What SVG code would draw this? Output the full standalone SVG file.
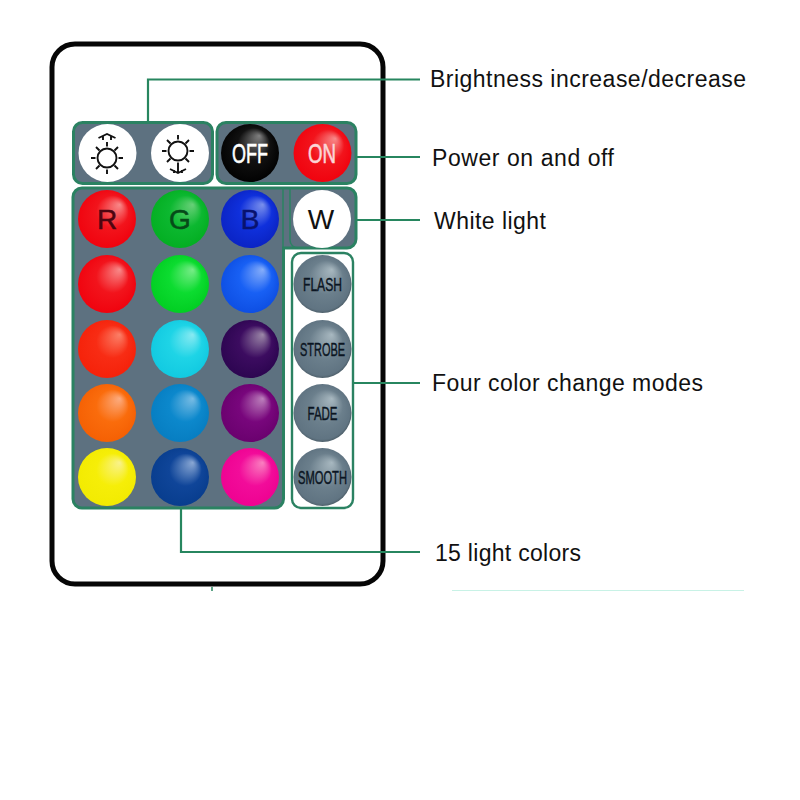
<svg xmlns="http://www.w3.org/2000/svg" width="800" height="800" viewBox="0 0 800 800">
<style>
.lbl{font-family:"Liberation Sans",Arial,sans-serif;font-size:23px;fill:#111}
.conn{fill:none;stroke:#27865f;stroke-width:2.2}
.panel{fill:#5d7180;stroke:#2b8262;stroke-width:3}
.big{font-family:"Liberation Sans",Arial,sans-serif;font-size:28px;text-anchor:middle;stroke-width:.5}
.cond{font-family:"Liberation Sans",Arial,sans-serif;text-anchor:middle}
.mode{font-size:19px;fill:#0b1522;stroke:#0b1522;stroke-width:.45}
.icon{fill:none;stroke:#111;stroke-width:1.9}
</style>
<defs>
<radialGradient id="gRed" cx=".47" cy=".5" r=".56" fx=".72" fy=".25"><stop offset="0" stop-color="#f88a8a"/><stop offset=".5" stop-color="#f2141c"/><stop offset="1" stop-color="#f0000c"/></radialGradient>
<radialGradient id="gRed2" cx=".47" cy=".5" r=".56" fx=".72" fy=".25"><stop offset="0" stop-color="#fb8068"/><stop offset=".5" stop-color="#f82c14"/><stop offset="1" stop-color="#f52008"/></radialGradient>
<radialGradient id="gGreen" cx=".47" cy=".5" r=".56" fx=".72" fy=".25"><stop offset="0" stop-color="#68d078"/><stop offset=".5" stop-color="#0cb830"/><stop offset="1" stop-color="#02ad20"/></radialGradient>
<radialGradient id="gGreen2" cx=".47" cy=".5" r=".56" fx=".72" fy=".25"><stop offset="0" stop-color="#78ec88"/><stop offset=".5" stop-color="#0cdc30"/><stop offset="1" stop-color="#00cc20"/></radialGradient>
<radialGradient id="gBlue" cx=".47" cy=".5" r=".56" fx=".72" fy=".25"><stop offset="0" stop-color="#7a90ec"/><stop offset=".5" stop-color="#0f30dc"/><stop offset="1" stop-color="#0a22c0"/></radialGradient>
<radialGradient id="gBlue2" cx=".47" cy=".5" r=".56" fx=".72" fy=".25"><stop offset="0" stop-color="#86aefa"/><stop offset=".5" stop-color="#1860f4"/><stop offset="1" stop-color="#0c4ce0"/></radialGradient>
<radialGradient id="gCyan" cx=".47" cy=".5" r=".56" fx=".72" fy=".25"><stop offset="0" stop-color="#88eaf2"/><stop offset=".5" stop-color="#1ed4e6"/><stop offset="1" stop-color="#10c8e0"/></radialGradient>
<radialGradient id="gDark" cx=".47" cy=".5" r=".56" fx=".72" fy=".25"><stop offset="0" stop-color="#9c88a8"/><stop offset=".5" stop-color="#3c0c60"/><stop offset="1" stop-color="#2a044e"/></radialGradient>
<radialGradient id="gOrange" cx=".47" cy=".5" r=".56" fx=".72" fy=".25"><stop offset="0" stop-color="#fcac80"/><stop offset=".5" stop-color="#fa6c0c"/><stop offset="1" stop-color="#f45e02"/></radialGradient>
<radialGradient id="gSky" cx=".47" cy=".5" r=".56" fx=".72" fy=".25"><stop offset="0" stop-color="#78bce4"/><stop offset=".5" stop-color="#0c88cc"/><stop offset="1" stop-color="#067cc0"/></radialGradient>
<radialGradient id="gPurple" cx=".47" cy=".5" r=".56" fx=".72" fy=".25"><stop offset="0" stop-color="#bc80bc"/><stop offset=".5" stop-color="#78067c"/><stop offset="1" stop-color="#68006c"/></radialGradient>
<radialGradient id="gYellow" cx=".47" cy=".5" r=".56" fx=".72" fy=".25"><stop offset="0" stop-color="#f9f28c"/><stop offset=".5" stop-color="#f6ee08"/><stop offset="1" stop-color="#f2ea00"/></radialGradient>
<radialGradient id="gNavy" cx=".47" cy=".5" r=".56" fx=".72" fy=".25"><stop offset="0" stop-color="#8aa8d4"/><stop offset=".5" stop-color="#0f4599"/><stop offset="1" stop-color="#073c8c"/></radialGradient>
<radialGradient id="gPink" cx=".47" cy=".5" r=".56" fx=".72" fy=".25"><stop offset="0" stop-color="#fa80c0"/><stop offset=".5" stop-color="#f20c9a"/><stop offset="1" stop-color="#ee0090"/></radialGradient>
<radialGradient id="gBlack" cx=".47" cy=".5" r=".56" fx=".66" fy=".2"><stop offset="0" stop-color="#808080"/><stop offset=".5" stop-color="#111"/><stop offset="1" stop-color="#000"/></radialGradient>
<radialGradient id="gGrey" cx=".48" cy=".5" r=".53" fx=".66" fy=".25"><stop offset="0" stop-color="#a8b8c0"/><stop offset=".55" stop-color="#6b7f8c"/><stop offset=".9" stop-color="#607482"/><stop offset="1" stop-color="#46565f"/></radialGradient>
</defs>

<g id="remote"><rect x="52" y="44" width="331" height="540" rx="23" fill="#fff" stroke="#060606" stroke-width="5"/></g>

<g id="panels">
<rect class="panel" x="73.500" y="122.500" width="139" height="61" rx="9"/>
<rect class="panel" x="217" y="122.500" width="139" height="61" rx="9"/>
<path class="panel" d="M82 188H347a9 9 0 0 1 9 9V239a9 9 0 0 1-9 9H283.500V499a9 9 0 0 1-9 9H82a9 9 0 0 1-9-9V197a9 9 0 0 1 9-9Z"/>
<path fill="none" stroke="#2b8262" stroke-width="1.500" d="M283 189V248M290 189V240a8 8 0 0 0 8 8"/>
<rect x="292" y="253" width="61" height="255" rx="9" fill="#fff" stroke="#2b8262" stroke-width="2.400"/>
</g>

<g id="connectors">
<path class="conn" d="M148 122V79.500H420"/>
<path class="conn" d="M356 157H420"/>
<path class="conn" d="M356 220H420"/>
<path class="conn" d="M353 383H420"/>
<path class="conn" d="M181 508V552H420"/>
<path d="M212 587V591" fill="none" stroke="#27865f" stroke-width="1.500"/>
<path d="M452 590.500H744" fill="none" stroke="#c8f2e6" stroke-width="1"/>
</g>

<g id="btn-bright-up">
<circle cx="107.500" cy="153" r="29" fill="#fff"/>
<circle class="icon" cx="107" cy="158" r="9.500"/>
<path class="icon" d="M107 142v4.500M107 169.500v4.500M91 158h4.500M123 158h-4.500M96 147l3.500 3.500M118 147l-3.500 3.500M96 169l3.500-3.500M118 169l-3.500-3.500M98.500 138l8.500-4 8.500 4M103 136v4M111 136v4"/>
</g>
<g id="btn-bright-down">
<circle cx="180" cy="153" r="29" fill="#fff"/>
<circle class="icon" cx="178" cy="151" r="9.500"/>
<path class="icon" d="M178 135v4.500M178 162.500v4.500M162 151h4.500M194 151h-4.500M167 140l3.500 3.500M189 140l-3.500 3.500M167 162l3.500-3.500M189 162l-3.500-3.500M170 169l8 4 8-4M178 166v7M174 170v3M182 170v3"/>
</g>
<g id="btn-off">
<circle cx="250" cy="153" r="29" fill="url(#gBlack)"/>
<text class="cond" x="250" y="163" font-size="28" fill="#fff" stroke="#fff" stroke-width=".6" textLength="36" lengthAdjust="spacingAndGlyphs">OFF</text>
</g>
<g id="btn-on">
<circle cx="322.500" cy="153" r="29" fill="url(#gRed)"/>
<text class="cond" x="322" y="163" font-size="28" fill="#fbd6d6" stroke="#fbd6d6" stroke-width=".6" textLength="28" lengthAdjust="spacingAndGlyphs">ON</text>
</g>

<g id="btn-r"><circle cx="107" cy="219" r="29" fill="url(#gRed)"/><text class="big" x="107" y="229" fill="#4e0510" stroke="#4e0510">R</text></g>
<g id="btn-g"><circle cx="180" cy="219" r="29" fill="url(#gGreen)"/><text class="big" x="180" y="229" fill="#064a18" stroke="#064a18">G</text></g>
<g id="btn-b"><circle cx="250" cy="219" r="29" fill="url(#gBlue)"/><text class="big" x="250" y="229" fill="#08126e" stroke="#08126e">B</text></g>
<g id="btn-w"><circle cx="322" cy="219" r="29" fill="#fff"/><text class="big" x="321" y="229" fill="#111">W</text></g>

<g id="color-1"><circle cx="107" cy="284" r="29" fill="url(#gRed)"/></g>
<g id="color-2"><circle cx="180" cy="284" r="29" fill="url(#gGreen2)"/></g>
<g id="color-3"><circle cx="250" cy="284" r="29" fill="url(#gBlue2)"/></g>
<g id="color-4"><circle cx="107" cy="349" r="29" fill="url(#gRed2)"/></g>
<g id="color-5"><circle cx="180" cy="349" r="29" fill="url(#gCyan)"/></g>
<g id="color-6"><circle cx="250" cy="349" r="29" fill="url(#gDark)"/></g>
<g id="color-7"><circle cx="107" cy="413" r="29" fill="url(#gOrange)"/></g>
<g id="color-8"><circle cx="180" cy="413" r="29" fill="url(#gSky)"/></g>
<g id="color-9"><circle cx="250" cy="413" r="29" fill="url(#gPurple)"/></g>
<g id="color-10"><circle cx="107" cy="477" r="29" fill="url(#gYellow)"/></g>
<g id="color-11"><circle cx="180" cy="477" r="29" fill="url(#gNavy)"/></g>
<g id="color-12"><circle cx="250" cy="477" r="29" fill="url(#gPink)"/></g>

<g id="mode-flash"><circle cx="322.500" cy="284" r="29" fill="url(#gGrey)"/><text class="cond mode" x="322.500" y="291" textLength="39" lengthAdjust="spacingAndGlyphs">FLASH</text></g>
<g id="mode-strobe"><circle cx="322.500" cy="349" r="29" fill="url(#gGrey)"/><text class="cond mode" x="322.500" y="355.500" textLength="45" lengthAdjust="spacingAndGlyphs">STROBE</text></g>
<g id="mode-fade"><circle cx="322.500" cy="413" r="29" fill="url(#gGrey)"/><text class="cond mode" x="322.500" y="420" textLength="30" lengthAdjust="spacingAndGlyphs">FADE</text></g>
<g id="mode-smooth"><circle cx="322.500" cy="477" r="29" fill="url(#gGrey)"/><text class="cond mode" x="322.500" y="484" textLength="49" lengthAdjust="spacingAndGlyphs">SMOOTH</text></g>

<g id="labels">
<text class="lbl" x="430" y="87" textLength="316">Brightness increase/decrease</text>
<text class="lbl" x="432" y="166" textLength="182">Power on and off</text>
<text class="lbl" x="434" y="229" textLength="112">White light</text>
<text class="lbl" x="432" y="391" textLength="271">Four color change modes</text>
<text class="lbl" x="435" y="561" textLength="146">15 light colors</text>
</g>
</svg>
